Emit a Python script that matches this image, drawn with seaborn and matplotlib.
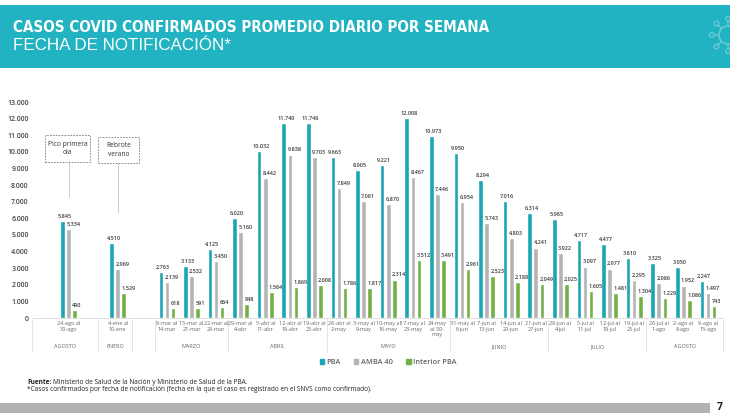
import numpy as np
import pandas as pd
import matplotlib
matplotlib.use("Agg")
import matplotlib.pyplot as plt
import matplotlib.transforms as mtransforms
import seaborn as sns
from matplotlib import font_manager
from matplotlib.font_manager import FontProperties
from matplotlib.patches import Rectangle, Circle, Patch

# datos
semanas = [
    "24-ago al\n30-ago", "4-ene al\n10-ene",
    "8-mar al\n14-mar", "15-mar al\n21-mar", "22-mar al\n28-mar",
    "29-mar al\n4-abr", "5-abr al\n11-abr", "12-abr al\n18-abr", "19-abr al\n25-abr",
    "26-abr al\n2-may", "3-may al\n9-may", "10-may al\n16-may", "17-may al\n23-may", "24-may\nal 30-\nmay",
    "31-may al\n6-jun", "7-jun al\n13-jun", "14-jun al\n20-jun", "21-jun al\n27-jun",
    "28-jun al\n4-jul", "5-jul al\n11-jul", "12-jul al\n18-jul", "19-jul al\n25-jul",
    "26-jul al\n1-ago", "2-ago al\n8-ago", "9-ago al\n15-ago",
]
meses = ["AGOSTO", "ENERO", "MARZO", "ABRIL", "MAYO", "JUNIO", "JULIO", "AGOSTO"]
semanas_por_mes = [1, 1, 3, 4, 5, 4, 4, 3]

pba = [5845, 4510, 2763, 3133, 4125, 6020, 10032, 11740, 11746, 9663, 8905, 9221, 12008,
       10973, 9950, 8294, 7016, 6314, 5965, 4717, 4477, 3610, 3325, 3050, 2247]
amba40 = [5334, 2969, 2139, 2532, 3450, 5160, 8442, 9838, 9703, 7849, 7061, 6870, 8467,
          7446, 6954, 5743, 4803, 4241, 3922, 3097, 2977, 2295, 2086, 1952, 1497]
interior = [490, 1529, 618, 591, 664, 848, 1564, 1869, 2008, 1786, 1817, 2314, 3512,
            3491, 2961, 2523, 2188, 2049, 2025, 1605, 1481, 1304, 1229, 1086, 743]
series = ["PBA", "AMBA 40", "Interior PBA"]
colores = ["#1aa6b3", "#b4b4b4", "#72b046"]

# huecos entre los dos primeros periodos y marzo
pos = np.arange(len(semanas)) + np.r_[0, 1, np.full(len(semanas) - 2, 2)]

df = pd.DataFrame({
    "pos": np.tile(pos, 3),
    "casos": pba + amba40 + interior,
    "serie": np.repeat(series, len(semanas)),
})

sns.set_theme(style="white")
plt.rcParams["font.family"] = ["Open Sans", "DejaVu Sans"]


def fuente_titulo():
    # busca una fuente angosta en negrita, si hay
    for f in font_manager.fontManager.ttflist:
        nombre = f.fname.lower()
        if ("condensed" in nombre or "narrow" in nombre) and "bold" in nombre and "oblique" not in nombre \
                and "italic" not in nombre:
            return FontProperties(fname=f.fname)
    return FontProperties(family="Liberation Sans", weight="bold")


def ajustar_ancho(txt, ancho):
    fig.canvas.draw()
    w = txt.get_window_extent().width
    txt.set_fontsize(txt.get_fontsize() * ancho / w)


fig = plt.figure(figsize=(7.3, 4.13), dpi=100)

# capa de fondo en pixeles: encabezado y pie
bg = fig.add_axes([0, 0, 1, 1], zorder=0)
bg.set_xlim(0, 730)
bg.set_ylim(413, 0)
bg.axis("off")
bg.add_patch(Rectangle((0, 5), 730, 63, color="#21b3c1", lw=0))
fp = fuente_titulo()
fp.set_size(13)
titulo = bg.text(13, 27, "CASOS COVID CONFIRMADOS PROMEDIO DIARIO POR SEMANA", color="white",
                 fontproperties=fp, va="center")
ajustar_ancho(titulo, 476)
sub = bg.text(13, 46, "FECHA DE NOTIFICACIÓN*", color="white", fontsize=11,
              family="Liberation Sans", va="center")
ajustar_ancho(sub, 217)

# icono virus
vc = (728, 35)
bg.add_patch(Circle(vc, 9, fill=False, ec="#66c9d4", lw=1.2))
for ang in np.linspace(0, 2 * np.pi, 8, endpoint=False):
    c, s = np.cos(ang), np.sin(ang)
    bg.plot([vc[0] + 9 * c, vc[0] + 14 * c], [vc[1] + 9 * s, vc[1] + 14 * s], color="#66c9d4", lw=1.1)
    bg.add_patch(Circle((vc[0] + 16.3 * c, vc[1] + 16.3 * s), 2.3, fill=False, ec="#66c9d4", lw=1.0))

bg.add_patch(Rectangle((0, 403), 710, 10, color="#b3b3b3", lw=0))
bg.text(720, 407, "7", fontsize=7.5, fontweight="bold", color="#222", ha="center", va="center")

t = bg.text(27, 382, "Fuente:", fontsize=4.7, fontweight="bold", color="#222", va="center")
fig.canvas.draw()
ext = t.get_window_extent()
bg.text(27 + ext.width + 1.5, 382, "Ministerio de Salud de la Nación y Ministerio de Salud de la PBA.",
        fontsize=4.7, color="#222", va="center")
bg.text(27, 389.5, "*Casos confirmados por fecha de notificación (fecha en la que el caso es registrado "
        "en el SNVS como confirmado).", fontsize=4.7, color="#222", va="center")

# grafico principal
ax = fig.add_axes([0.045, 0.23, 0.945, 0.523], zorder=1)
ax.patch.set_alpha(0)
sns.barplot(data=df, x="pos", y="casos", hue="serie", hue_order=series, palette=colores,
            native_scale=True, width=0.74, gap=0.24, saturation=1, errorbar=None,
            legend=False, ax=ax)

ax.set_xlim(-1.45, 26.6)
ax.set_ylim(0, 13000)
ax.set_xticks([])
ax.set_xlabel("")
ax.set_ylabel("")
yt = np.arange(0, 13001, 1000)
ax.set_yticks(yt)
ax.set_yticklabels([f"{v:,}".replace(",", ".") for v in yt], fontsize=5, color="#444",
                   fontweight="semibold")
ax.tick_params(axis="y", length=0, pad=3)
for lado in ["left", "top", "right"]:
    ax.spines[lado].set_visible(False)
ax.spines["bottom"].set_color("#d9d9d9")
ax.spines["bottom"].set_linewidth(0.6)

# etiquetas de valores
for cont, serie in zip(ax.containers, series):
    for bar in cont:
        h = bar.get_height()
        txt = f"{int(round(h)):,}".replace(",", ".")
        if serie == "PBA":
            xx, ha, dx = bar.get_x() + bar.get_width() / 2, "center", 1.5
        else:
            xx, ha, dx = bar.get_x(), "left", 0
        ax.annotate(txt, (xx, h), xytext=(dx, 1.5), textcoords="offset points", ha=ha,
                    va="bottom", fontsize=4.0, color="#3a3a3a", fontweight="semibold")

# eje x en dos niveles
trans = mtransforms.blended_transform_factory(ax.transData, ax.transAxes)
for p, lab in zip(pos, semanas):
    ax.text(p, -0.014, lab, transform=trans, ha="center", va="top", fontsize=4.0,
            color="#666", linespacing=1.15)

celdas = [(-1.5, 1.2), (1.2, 2.6), (3.5, 6.5), (6.5, 10.5), (10.5, 15.5),
          (15.5, 19.5), (19.5, 23.5), (23.5, 26.6)]
bordes = sorted({b for c in celdas for b in c})
for b in bordes:
    ax.plot([b, b], [0, -0.157], transform=trans, color="#e0e0e0", lw=0.6, clip_on=False)
for (a, b), mes in zip(celdas, meses):
    ax.text((a + b) / 2, -0.134, mes, transform=trans, ha="center", va="center",
            fontsize=4.0, color="#666")

# anotaciones
anot = [("Pico primera\nola", pos[0], -0.96, 1.83, 9389, 1625, 7222),
        ("Rebrote\nverano", pos[1], 1.2, 1.66, 9329, 1565, 6319)]
for texto, xc, x0, w, y0, hgt, yfin in anot:
    ax.add_patch(Rectangle((x0, y0), w, hgt, fill=False, ec="#777", lw=0.6, ls=(0, (2, 1.5))))
    ax.text(x0 + w / 2, y0 + hgt / 2, texto, ha="center", va="center", fontsize=4.8,
            color="#333", linespacing=1.3)
    ax.plot([xc, xc], [y0, yfin], color="#888", lw=0.6, ls=(0, (1.2, 1.2)))

handles = [Patch(color=c, label=s) for c, s in zip(colores, series)]
fig.legend(handles=handles, loc="center", bbox_to_anchor=(0.532, 0.122), ncol=3,
           frameon=False, handlelength=0.55, handleheight=0.55, columnspacing=1.8,
           handletextpad=0.4, prop={"size": 5.3, "weight": "semibold"}, labelcolor="#666")

fig.savefig("out.png", dpi=100)
